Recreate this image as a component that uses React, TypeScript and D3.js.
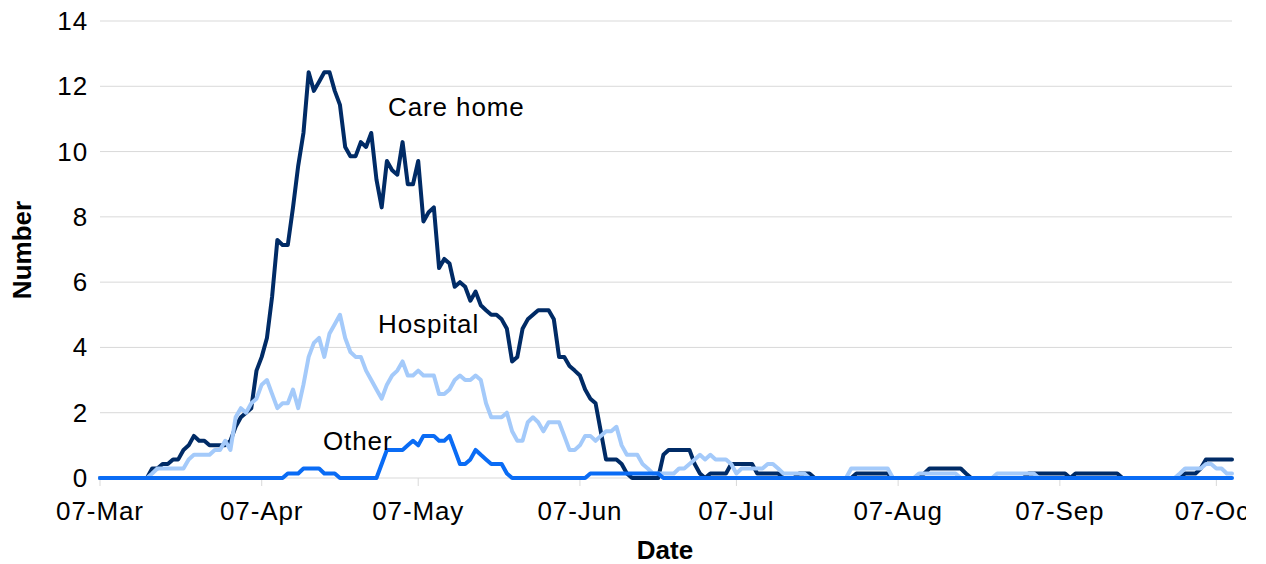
import React from "react";
import * as d3 from "d3";

// Daily values from 07-Mar-2020 (index 0) to 10-Oct-2020 (index 217)
const careHome: number[] = [
  0, 0, 0, 0, 0, 0, 0, 0, 0, 0,
  0.29, 0.29, 0.43, 0.43, 0.57, 0.57, 0.86, 1.0, 1.29, 1.14,
  1.14, 1.0, 1.0, 1.0, 1.0, 1.14, 1.57, 1.86, 2.0, 2.14,
  3.29, 3.71, 4.29, 5.57, 7.29, 7.14, 7.14, 8.29, 9.57, 10.57,
  12.43, 11.86, 12.14, 12.43, 12.43, 11.86, 11.43, 10.14, 9.86, 9.86,
  10.29, 10.14, 10.57, 9.14, 8.29, 9.71, 9.43, 9.29, 10.29, 9.0,
  9.0, 9.71, 7.86, 8.14, 8.29, 6.43, 6.71, 6.57, 5.86, 6.0,
  5.86, 5.43, 5.71, 5.29, 5.14, 5.0, 5.0, 4.86, 4.57, 3.57,
  3.71, 4.57, 4.86, 5.0, 5.14, 5.14, 5.14, 4.86, 3.71, 3.71,
  3.43, 3.29, 3.14, 2.71, 2.43, 2.29, 1.43, 0.57, 0.57, 0.57,
  0.43, 0.14, 0, 0, 0, 0, 0, 0, 0.71, 0.86,
  0.86, 0.86, 0.86, 0.86, 0.43, 0.14, 0, 0.14, 0.14, 0.14,
  0.14, 0.43, 0.43, 0.43, 0.43, 0.43, 0.14, 0.14, 0.14, 0.14,
  0.14, 0, 0, 0, 0.14, 0.14, 0.14, 0, 0, 0,
  0, 0, 0, 0, 0, 0.14, 0.14, 0.14, 0.14, 0.14,
  0.14, 0.14, 0, 0, 0, 0, 0, 0, 0.14, 0.29,
  0.29, 0.29, 0.29, 0.29, 0.29, 0.29, 0.14, 0, 0, 0,
  0, 0, 0, 0, 0, 0, 0, 0, 0.14, 0.14,
  0.14, 0.14, 0.14, 0.14, 0.14, 0.14, 0, 0.14, 0.14, 0.14,
  0.14, 0.14, 0.14, 0.14, 0.14, 0.14, 0, 0, 0, 0,
  0, 0, 0, 0, 0, 0, 0, 0, 0.14, 0.14,
  0.14, 0.29, 0.57, 0.57, 0.57, 0.57, 0.57, 0.57,
];

const hospital: number[] = [
  0, 0, 0, 0, 0, 0, 0, 0, 0, 0,
  0.14, 0.29, 0.29, 0.29, 0.29, 0.29, 0.29, 0.57, 0.71, 0.71,
  0.71, 0.71, 0.86, 0.86, 1.14, 0.86, 1.86, 2.14, 2.0, 2.29,
  2.43, 2.86, 3.0, 2.57, 2.14, 2.29, 2.29, 2.71, 2.14, 2.86,
  3.71, 4.14, 4.29, 3.71, 4.43, 4.71, 5.0, 4.29, 3.86, 3.71,
  3.71, 3.29, 3.0, 2.71, 2.43, 2.86, 3.14, 3.29, 3.57, 3.14,
  3.14, 3.29, 3.14, 3.14, 3.14, 2.57, 2.57, 2.71, 3.0, 3.14,
  3.0, 3.0, 3.14, 3.0, 2.29, 1.86, 1.86, 1.86, 2.0, 1.43,
  1.14, 1.14, 1.71, 1.86, 1.71, 1.43, 1.71, 1.71, 1.71, 1.29,
  0.86, 0.86, 1.0, 1.29, 1.29, 1.14, 1.29, 1.43, 1.43, 1.57,
  1.0, 0.71, 0.71, 0.71, 0.43, 0.29, 0.14, 0.14, 0.14, 0.14,
  0.14, 0.29, 0.29, 0.43, 0.57, 0.71, 0.57, 0.71, 0.57, 0.57,
  0.57, 0.43, 0.14, 0.29, 0.29, 0.29, 0.29, 0.29, 0.43, 0.43,
  0.29, 0.14, 0.14, 0.14, 0.14, 0.14, 0, 0, 0, 0,
  0, 0, 0, 0, 0.29, 0.29, 0.29, 0.29, 0.29, 0.29,
  0.29, 0.29, 0, 0, 0, 0, 0, 0.14, 0.14, 0.14,
  0.14, 0.14, 0.14, 0.14, 0.14, 0, 0, 0, 0, 0,
  0, 0, 0.14, 0.14, 0.14, 0.14, 0.14, 0.14, 0.14, 0.14,
  0, 0, 0, 0, 0, 0, 0, 0, 0, 0,
  0, 0, 0, 0, 0, 0, 0, 0, 0, 0,
  0, 0, 0, 0, 0, 0, 0, 0.14, 0.29, 0.29,
  0.29, 0.29, 0.43, 0.43, 0.29, 0.29, 0.14, 0.14,
];

const other: number[] = [
  0, 0, 0, 0, 0, 0, 0, 0, 0, 0,
  0, 0, 0, 0, 0, 0, 0, 0, 0, 0,
  0, 0, 0, 0, 0, 0, 0, 0, 0, 0,
  0, 0, 0, 0, 0, 0, 0.14, 0.14, 0.14, 0.29,
  0.29, 0.29, 0.29, 0.14, 0.14, 0.14, 0, 0, 0, 0,
  0, 0, 0, 0, 0.43, 0.86, 0.86, 0.86, 0.86, 1.0,
  1.14, 1.0, 1.29, 1.29, 1.29, 1.14, 1.14, 1.29, 0.86, 0.43,
  0.43, 0.57, 0.86, 0.71, 0.57, 0.43, 0.43, 0.43, 0.14, 0,
  0, 0, 0, 0, 0, 0, 0, 0, 0, 0,
  0, 0, 0, 0, 0.14, 0.14, 0.14, 0.14, 0.14, 0.14,
  0.14, 0.14, 0.14, 0.14, 0.14, 0.14, 0.14, 0.14, 0, 0,
  0, 0, 0, 0, 0, 0, 0, 0, 0, 0,
  0, 0, 0, 0, 0, 0, 0, 0, 0, 0,
  0, 0, 0, 0, 0, 0, 0, 0, 0, 0,
  0, 0, 0, 0, 0, 0, 0, 0, 0, 0,
  0, 0, 0, 0, 0, 0, 0, 0, 0, 0,
  0, 0, 0, 0, 0, 0, 0, 0, 0, 0,
  0, 0, 0, 0, 0, 0, 0, 0, 0, 0,
  0, 0, 0, 0, 0, 0, 0, 0, 0, 0,
  0, 0, 0, 0, 0, 0, 0, 0, 0, 0,
  0, 0, 0, 0, 0, 0, 0, 0, 0, 0,
  0, 0, 0, 0, 0, 0, 0, 0,
];

const yTicks: number[] = [0, 2, 4, 6, 8, 10, 12, 14];
const xTickMonths: number[] = [2, 3, 4, 5, 6, 7, 8, 9]; // Mar..Oct, day 7
const seriesLabels = ["Care home", "Hospital", "Other"];

const START = new Date(Date.UTC(2020, 2, 7));
const END = new Date(Date.UTC(2020, 9, 10));

const FONT = "'Liberation Sans', Arial, sans-serif";

export default function App() {
  const W = 1266;
  const H = 564;
  const x = d3.scaleUtc().domain([START, END]).range([100, 1232]);
  const y = d3.scaleLinear().domain([0, 14]).range([478, 21]);
  const dateAt = (i: number) => d3.utcDay.offset(START, i);
  const line = d3
    .line<number>()
    .x((_, i) => x(dateAt(i)))
    .y((v) => y(v));
  const fmt = d3.utcFormat("%d-%b");
  const tickDates = xTickMonths.map((m) => new Date(Date.UTC(2020, m, 7)));

  const series = [
    { name: seriesLabels[0], data: careHome, color: "#002b66" },
    { name: seriesLabels[1], data: hospital, color: "#a4cafa" },
    { name: seriesLabels[2], data: other, color: "#0a6cf5" },
  ];

  const FS = 26;
  const LS = 0.9;

  return (
    <svg
      width={W}
      height={H}
      style={{ position: "absolute", left: 0, top: 0, background: "#fff" }}
      fontFamily={FONT}
    >
      <defs>
        <clipPath id="clipArea">
          <rect x={0} y={0} width={1246} height={H} />
        </clipPath>
      </defs>
      {yTicks.map((t) => (
        <g key={t}>
          <line
            x1={100}
            x2={1232}
            y1={y(t)}
            y2={y(t)}
            stroke="#d9d9d9"
            strokeWidth={1}
          />
          <text
            x={88}
            y={y(t)}
            textAnchor="end"
            dominantBaseline="central"
            fontSize={FS}
            letterSpacing={LS}
            fill="#000"
          >
            {t}
          </text>
        </g>
      ))}
      <g clipPath="url(#clipArea)">
        {tickDates.map((d, i) => (
          <g key={i}>
            <line
              x1={x(d)}
              x2={x(d)}
              y1={478}
              y2={486}
              stroke="#d9d9d9"
              strokeWidth={1}
            />
            <text
              x={x(d)}
              y={520}
              textAnchor="middle"
              fontSize={FS}
              letterSpacing={LS}
              fill="#000"
            >
              {fmt(d)}
            </text>
          </g>
        ))}
      </g>
      {series.map((s) => (
        <path
          key={s.name}
          d={line(s.data) || ""}
          fill="none"
          stroke={s.color}
          strokeWidth={4}
          strokeLinejoin="round"
          strokeLinecap="round"
        />
      ))}
      <text x={388} y={116} fontSize={FS} letterSpacing={LS} fill="#000">
        {seriesLabels[0]}
      </text>
      <text x={378} y={333} fontSize={FS} letterSpacing={LS} fill="#000">
        {seriesLabels[1]}
      </text>
      <text x={323} y={450} fontSize={FS} letterSpacing={LS} fill="#000">
        {seriesLabels[2]}
      </text>
      <text
        transform="translate(31,250) rotate(-90)"
        textAnchor="middle"
        fontSize={FS}
        fontWeight="bold"
        fill="#000"
      >
        Number
      </text>
      <text
        x={665}
        y={559}
        textAnchor="middle"
        fontSize={FS}
        fontWeight="bold"
        fill="#000"
      >
        Date
      </text>
    </svg>
  );
}
